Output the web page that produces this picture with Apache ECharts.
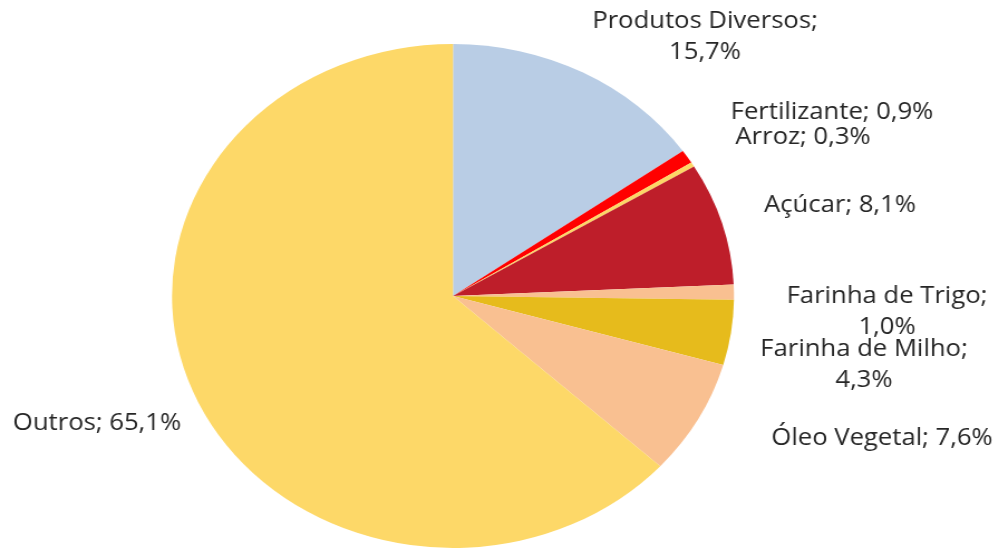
<!DOCTYPE html>
<html>
<head>
<meta charset="utf-8">
<script src="https://cdn.jsdelivr.net/npm/echarts@6/dist/echarts.min.js"></script>
<style>
    html, body { margin: 0; padding: 0; background: #fff; }
    #wrap { position: relative; width: 1003px; height: 550px; overflow: hidden; }
    /* o grafico original esta todo esticado na horizontal (pizza em elipse) */
    #pie { position: absolute; left: 0; top: 0; width: 900px; height: 550px;
           transform: scaleX(1.115); transform-origin: 0 0; }
</style>
</head>
<body>
<div id="wrap">
    <div id="pie"></div>
</div>
<script>
    var categories = ['Produtos Diversos', 'Fertilizante', 'Arroz', 'Açúcar',
        'Farinha de Trigo', 'Farinha de Milho', 'Óleo Vegetal', 'Outros'];
    var values = [15.7, 0.9, 0.3, 8.1, 1.0, 4.3, 7.6, 65.1];
    var colors = ['#B9CDE5', '#FF0000', '#FCD666', '#BE1E2A',
        '#F9C091', '#E6BB1C', '#F9C091', '#FDD868'];

    // posicao dos rotulos (centro do texto, em pixels da tela), como no Excel
    var labelPos = [[705, 37], [832, 112], [803, 137], [840, 205],
        [887, 312], [864, 365], [882, 438], [97, 423]];
    // quebra de linha do rotulo
    var wrapLabel = [true, false, false, false, true, true, false, false];

    var scale = 1.115;
    var cx = 453, cy = 296, r = 252;

    var data = [];
    for (var i = 0; i < categories.length; i++) {
        data.push({ name: categories[i], value: values[i], itemStyle: { color: colors[i] } });
    }

    function fmt(v) {
        return v.toFixed(1).replace('.', ',') + '%';
    }

    var myChart = echarts.init(document.getElementById('pie'));
    myChart.setOption({
        animation: false,
        series: [{
            type: 'pie',
            center: [cx / scale, cy],
            radius: [0, r],
            startAngle: 90,
            itemStyle: { borderWidth: 0 },
            label: {
                show: true,
                position: 'outside',
                overflow: 'none',
                color: '#262626',
                fontFamily: 'Open Sans',
                fontSize: 23,
                lineHeight: 31,
                align: 'center',
                formatter: function (p) {
                    var i = p.dataIndex;
                    return categories[i] + ';' + (wrapLabel[i] ? '\n' : ' ') + fmt(values[i]);
                }
            },
            labelLine: { show: false },
            labelLayout: function (p) {
                var pos = labelPos[p.dataIndex];
                return { x: pos[0] / scale, y: pos[1], align: 'center', verticalAlign: 'middle' };
            },
            emphasis: { disabled: true },
            data: data
        }]
    });
</script>
</body>
</html>
